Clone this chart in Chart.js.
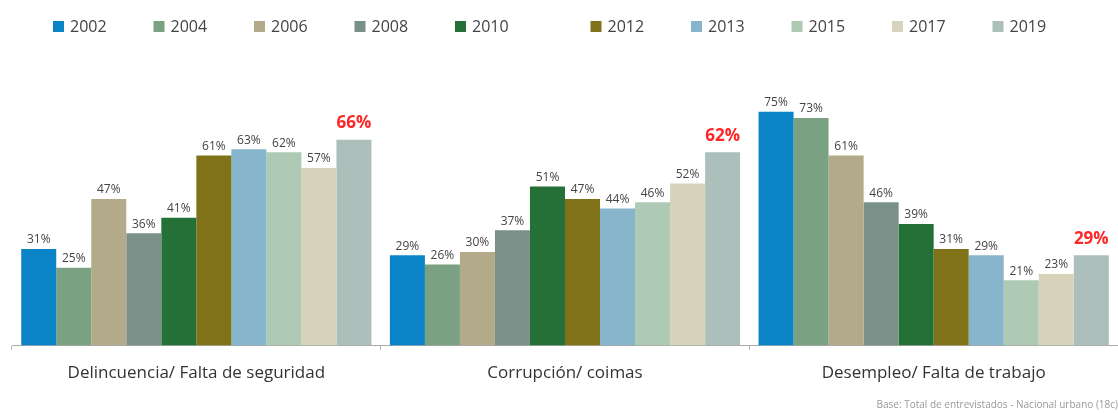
<!DOCTYPE html>
<html lang="es">
<head>
  <meta charset="UTF-8">
  <title>Principales problemas</title>
  <script src="https://cdn.jsdelivr.net/npm/chart.js"></script>
  <style>
    html, body { margin: 0; padding: 0; background: #fff; }
    #wrap { width: 1118px; height: 413px; }
  </style>
</head>
<body>
<div id="wrap"><canvas id="problemas"></canvas></div>
<script>
const categories = ['Delincuencia/ Falta de seguridad', 'Corrupción/ coimas', 'Desempleo/ Falta de trabajo'];
const years = ['2002', '2004', '2006', '2008', '2010', '2012', '2013', '2015', '2017', '2019'];
const colors = ['#0a84c6', '#7aa282', '#b3aa8a', '#7a9189', '#257036', '#7f7219', '#86b5cc', '#aecab4', '#d8d4bc', '#adbfbb'];

const v2002 = [31, 29, 75];
const v2004 = [25, 26, 73];
const v2006 = [47, 30, 61];
const v2008 = [36, 37, 46];
const v2010 = [41, 51, 39];
const v2012 = [61, 47, 31];
const v2013 = [63, 44, 29];
const v2015 = [62, 46, 21];
const v2017 = [57, 52, 23];
const v2019 = [66, 62, 29];
const values = [v2002, v2004, v2006, v2008, v2010, v2012, v2013, v2015, v2017, v2019];

const footnote = 'Base: Total de entrevistados - Nacional urbano (18c)';
const FONT = '"Open Sans", Lato, sans-serif';

// legend row drawn by hand, the built-in one cannot space items this wide
const legendRow = {
  id: 'legendRow',
  afterDraw(chart) {
    const ctx = chart.ctx;
    ctx.save();
    ctx.font = '16px ' + FONT;
    ctx.textBaseline = 'middle';
    ctx.textAlign = 'left';
    chart.data.datasets.forEach((ds, i) => {
      const x = 53 + i * 100.5 + (i >= 5 ? 35 : 0);
      ctx.fillStyle = ds.backgroundColor;
      ctx.fillRect(x, 21, 11, 11);
      ctx.fillStyle = '#444';
      ctx.fillText(ds.label, x + 17, 27);
    });
    ctx.restore();
  }
};

// percent labels over each bar, last series in red
const barValues = {
  id: 'barValues',
  afterDatasetsDraw(chart) {
    const ctx = chart.ctx;
    const last = chart.data.datasets.length - 1;
    ctx.save();
    ctx.textAlign = 'center';
    ctx.textBaseline = 'bottom';
    chart.data.datasets.forEach((ds, i) => {
      chart.getDatasetMeta(i).data.forEach((bar, j) => {
        if (i === last) {
          ctx.font = 'bold 17px ' + FONT;
          ctx.fillStyle = '#ff2626';
          ctx.fillText(ds.data[j] + '%', bar.x, bar.y - 8);
        } else {
          ctx.font = '12px ' + FONT;
          ctx.fillStyle = '#444';
          ctx.fillText(ds.data[j] + '%', bar.x, bar.y - 3);
        }
      });
    });
    ctx.restore();
  }
};

new Chart(document.getElementById('problemas'), {
  type: 'bar',
  data: {
    labels: categories,
    datasets: years.map((y, i) => ({
      label: y,
      data: values[i],
      backgroundColor: colors[i],
      borderWidth: 0,
      categoryPercentage: 0.95,
      barPercentage: 1.0
    }))
  },
  options: {
    responsive: true,
    maintainAspectRatio: false,
    animation: false,
    layout: { padding: { top: 65, left: 12, right: 0, bottom: 0 } },
    scales: {
      x: {
        offset: true,
        grid: { offset: true, drawOnChartArea: false, drawTicks: true, tickLength: 4, color: '#aaa' },
        border: { display: true, color: '#aaa' },
        ticks: { color: '#333', padding: 13, font: { family: FONT, size: 17 } }
      },
      y: { display: false, min: 0, max: 90 }
    },
    plugins: {
      legend: { display: false },
      tooltip: { enabled: false },
      subtitle: {
        display: true,
        text: footnote,
        position: 'bottom',
        align: 'end',
        color: '#999',
        font: { family: FONT, size: 10 },
        padding: { top: 3, bottom: 2 }
      }
    }
  },
  plugins: [legendRow, barValues]
});
</script>
</body>
</html>
